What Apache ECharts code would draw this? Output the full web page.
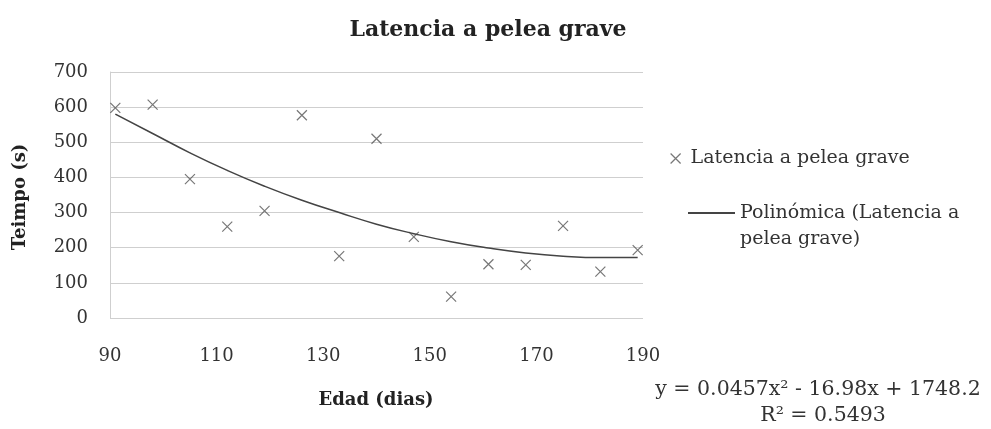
<!DOCTYPE html>
<html>
<head>
<meta charset="utf-8">
<script src="https://cdn.jsdelivr.net/npm/echarts@6/dist/echarts.min.js"></script>
<style>
  html, body { margin: 0; padding: 0; background: #fff; }
  #chart { width: 991px; height: 429px; }
</style>
</head>
<body>
<div id="chart"></div>
<script>
// edad (dias) y latencia (s)
var edad = [91, 98, 105, 112, 119, 126, 133, 140, 147, 154, 161, 168, 175, 182, 189];
var latencia = [598, 607, 395, 260, 305, 577, 176, 510, 231, 61, 153, 151, 262, 132, 193];
// linea de tendencia
var tendencia = [580, 525, 470, 420, 375, 335, 300, 267, 240, 217, 199, 185, 176, 172, 172];
var xTicks = [90, 110, 130, 150, 170, 190];
var yTicks = [0, 100, 200, 300, 400, 500, 600, 700];

var serif = 'DejaVu Serif';
var crossPath = 'path://M0,0L10,10M10,0L0,10';
// linea arriba de una caja de 28px, para que quede a la altura del primer renglon
var linePath = 'path://M0,0L47,0L47,2L0,2Z M0,28L0.01,28';
var nombreTend = 'Polinómica (Latencia a pelea grave)';

var mychart = echarts.init(document.getElementById('chart'));

var option = {
  animation: false,
  textStyle: { fontFamily: serif, color: '#333' },
  title: {
    text: 'Latencia a pelea grave',
    left: 483, top: 14,
    textAlign: 'center',
    textStyle: { fontFamily: serif, fontWeight: 'bold', fontSize: 22, color: '#222' }
  },
  legend: [
    {
      orient: 'vertical',
      left: 665, top: 144,
      itemWidth: 20, itemHeight: 10,
      textStyle: { fontFamily: serif, fontSize: 19, color: '#333' },
      data: [
        { name: 'Latencia a pelea grave', icon: crossPath,
          itemStyle: { color: 'transparent', borderColor: '#555', borderWidth: 1.2 } }
      ]
    },
    {
      orient: 'vertical',
      left: 683, top: 195,
      itemWidth: 47, itemHeight: 28,
      textStyle: { fontFamily: serif, fontSize: 19, color: '#333', lineHeight: 26 },
      data: [{ name: nombreTend, icon: linePath,
        itemStyle: { color: '#444', borderWidth: 0 } }],
      formatter: function () { return 'Polinómica (Latencia a\npelea grave)'; }
    }
  ],
  grid: { left: 110, right: 348, top: 72, bottom: 111 },
  xAxis: {
    type: 'value', min: 90, max: 190, interval: 20,
    axisLine: { show: false },
    axisTick: { show: false },
    splitLine: { show: false },
    axisLabel: { fontFamily: serif, fontSize: 18, color: '#333', margin: 29 }
  },
  yAxis: {
    type: 'value', min: 0, max: 700, interval: 100,
    axisLine: { show: true, lineStyle: { color: '#cfcfcf' } },
    axisTick: { show: false },
    splitLine: { lineStyle: { color: '#cfcfcf', width: 1.2 } },
    axisLabel: { fontFamily: serif, fontSize: 18, color: '#333', margin: 22 }
  },
  series: [
    {
      name: 'Latencia a pelea grave',
      type: 'scatter',
      symbol: crossPath,
      symbolSize: 10,
      itemStyle: { color: 'transparent', borderColor: '#555', borderWidth: 1.2 },
      data: edad.map(function (x, i) { return [x, latencia[i]]; })
    },
    {
      name: nombreTend,
      type: 'line',
      smooth: true,
      symbol: 'none',
      lineStyle: { color: '#444', width: 1.5 },
      itemStyle: { color: '#444' },
      data: edad.map(function (x, i) { return [x, tendencia[i]]; })
    }
  ],
  graphic: [
    { type: 'text', x: 20, y: 197, rotation: Math.PI / 2,
      style: { text: 'Teimpo (s)', font: 'bold 18px "DejaVu Serif"', fill: '#222',
        align: 'center', verticalAlign: 'middle' } },
    { type: 'text', x: 376, y: 400,
      style: { text: 'Edad (dias)', font: 'bold 18px "DejaVu Serif"', fill: '#222',
        align: 'center', verticalAlign: 'middle' } },
    { type: 'text', x: 818, y: 390,
      style: { text: 'y = 0.0457x² - 16.98x + 1748.2', font: '20.5px "DejaVu Serif"', fill: '#333',
        align: 'center', verticalAlign: 'middle' } },
    { type: 'text', x: 823, y: 416,
      style: { text: 'R² = 0.5493', font: '20.5px "DejaVu Serif"', fill: '#333',
        align: 'center', verticalAlign: 'middle' } }
  ]
};

mychart.setOption(option);
</script>
</body>
</html>
